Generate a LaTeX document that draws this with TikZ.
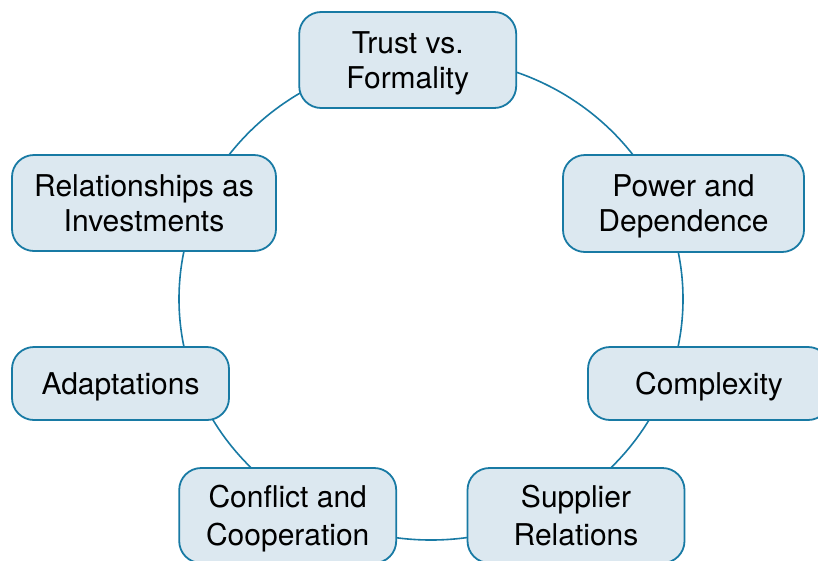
\documentclass[tikz,border=0pt]{standalone}
\usepackage{fontspec}
\setmainfont{TeX Gyre Heros}
\definecolor{edgeblue}{RGB}{24,122,164}
\definecolor{boxfill}{RGB}{220,232,240}
\tikzset{
  topic/.style={draw=edgeblue, fill=boxfill, line width=1.8pt,
    rounded corners=22pt, align=center, inner sep=0pt,
    text depth=0pt, font=\fontsize{30}{35}\selectfont},
  widetopic/.style={topic, font=\fontsize{30}{38}\selectfont},
  ring/.style={draw=edgeblue, line width=1.6pt}
}
\begin{document}
\begin{tikzpicture}[x=1pt,y=-1pt]
\useasboundingbox (0,0) rectangle (818,560);
\coordinate (ctr) at (431,299);
\draw[ring] (ctr) ellipse [x radius=252pt, y radius=241pt];
\node[topic, minimum width=217pt, minimum height=96pt] (trust) at (407.7,60) {Trust vs.\\Formality};
\node[topic, minimum width=241pt, minimum height=97pt] (power) at (683.5,203.5) {Power and\\Dependence};
\node[topic, minimum width=242pt, minimum height=73pt] (complex) at (709,383.5) {Complexity};
\node[widetopic, minimum width=217pt, minimum height=95pt] (supplier) at (576,515.5) {Supplier\\Relations};
\node[widetopic, minimum width=217pt, minimum height=95pt] (conflict) at (287.7,515.5) {Conflict and\\Cooperation};
\node[topic, minimum width=217pt, minimum height=73pt] (adapt) at (120.5,383.5) {Adaptations};
\node[topic, minimum width=264pt, minimum height=96pt] (relinv) at (144,203) {Relationships as\\Investments};
\end{tikzpicture}
\end{document}
